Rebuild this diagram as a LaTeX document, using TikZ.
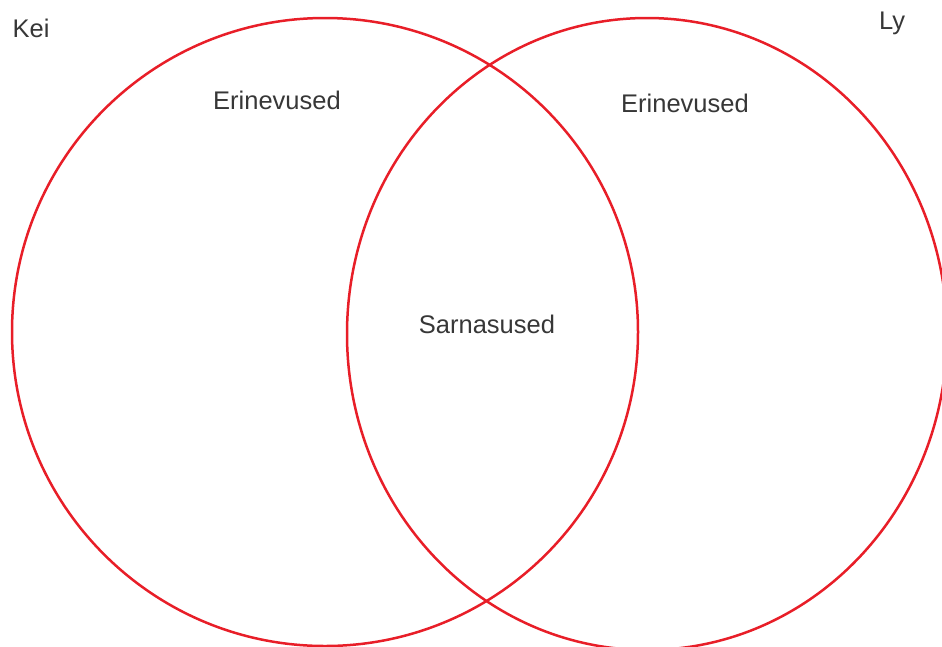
\documentclass[tikz,border=0pt]{standalone}
\usepackage{fontspec}
\setmainfont{Liberation Sans}
\definecolor{vennred}{RGB}{232,30,40}
\definecolor{labelgray}{RGB}{55,55,55}
\begin{document}
\begin{tikzpicture}[x=1pt,y=-1pt,
  setline/.style={draw=vennred,line width=2.5pt},
  lbl/.style={text=labelgray,font=\fontsize{25.5}{29}\selectfont,inner sep=0pt}]
\useasboundingbox (0,0) rectangle (942,646);
\clip (0,0) rectangle (942,646);
\draw[setline] (325,332) ellipse [x radius=313pt, y radius=314pt];
\draw[setline] (647,334) ellipse [x radius=300pt, y radius=316pt];
\node[lbl] (kei) at (31,28) {Kei};
\node[lbl] (ly) at (892,23) {Ly};
\node[lbl] (erl) at (277,100) {Erinevused};
\node[lbl] (err) at (685,103) {Erinevused};
\node[lbl] (sar) at (487,324) {Sarnasused};
\end{tikzpicture}
\end{document}
